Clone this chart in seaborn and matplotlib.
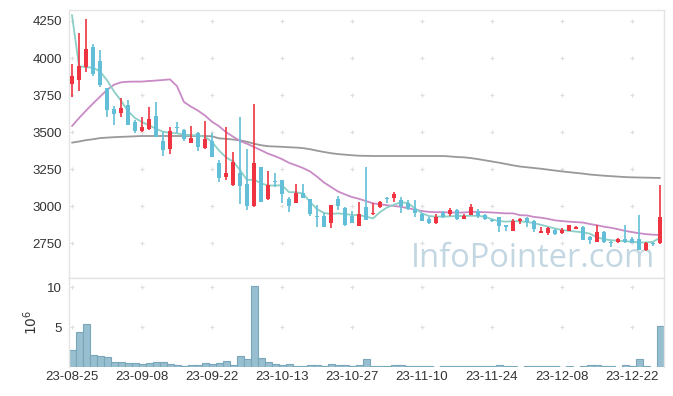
import numpy as np
import pandas as pd
import seaborn as sns
import matplotlib.pyplot as plt

# x tick labels (every 10 trading days)
tick_labels = ["23-08-25", "23-09-08", "23-09-22", "23-10-13", "23-10-27",
               "23-11-10", "23-11-24", "23-12-08", "23-12-22"]

# daily candles
opens = [3825, 3852, 3938, 4077, 3980, 3798, 3656, 3632, 3683, 3568,
         3510, 3523, 3609, 3440, 3384, 3533, 3514, 3429, 3497, 3396,
         3438, 3294, 3199, 3145, 3222, 3153, 3002, 3265, 3047, 3170,
         3177, 3049, 3024, 3092, 3047, 2935, 2934, 2889, 3049, 2988,
         2934, 2867, 2997, 2945, 2997, 3052, 3058, 3042, 3020, 2981,
         2948, 2914, 2885, 2956, 2948, 2974, 2916, 2941, 2968, 2941,
         2907, 2925, 2873, 2835, 2900, 2922, 2903, 2822, 2822, 2840,
         2817, 2835, 2849, 2858, 2790, 2761, 2826, 2761, 2761, 2777,
         2777, 2777, 2705, 2754, 2754]
highs = [3960, 4167, 4261, 4095, 4054, 3800, 3678, 3728, 3717, 3580,
         3604, 3668, 3703, 3503, 3533, 3567, 3520, 3541, 3500, 3573,
         3492, 3312, 3533, 3368, 3600, 3384, 3688, 3268, 3240, 3226,
         3180, 3065, 3148, 3148, 3050, 3008, 2955, 3010, 3069, 2995,
         2968, 3031, 3262, 3024, 3035, 3065, 3094, 3065, 3042, 3042,
         2955, 2930, 2946, 2965, 2990, 2980, 2946, 3013, 2980, 2950,
         2912, 2930, 2876, 2912, 2922, 2930, 2905, 2862, 2860, 2845,
         2855, 2873, 2867, 2870, 2799, 2873, 2835, 2768, 2785, 2873,
         2790, 2941, 2756, 2760, 3143]
lows = [3735, 3780, 3904, 3880, 3803, 3604, 3546, 3604, 3545, 3492,
        3503, 3515, 3465, 3339, 3353, 3493, 3440, 3425, 3375, 3384,
        3330, 3161, 3177, 3140, 3015, 2975, 2998, 3028, 3040, 3132,
        3024, 2960, 3020, 3055, 2936, 2862, 2860, 2851, 2975, 2870,
        2885, 2865, 2905, 2942, 2986, 3020, 3031, 2955, 2975, 2930,
        2900, 2878, 2883, 2920, 2936, 2910, 2914, 2938, 2920, 2905,
        2895, 2828, 2835, 2833, 2880, 2858, 2828, 2820, 2805, 2808,
        2810, 2832, 2845, 2770, 2745, 2758, 2755, 2727, 2755, 2755,
        2750, 2705, 2700, 2730, 2745]
closes = [3880, 3946, 4061, 3894, 3820, 3651, 3625, 3663, 3550, 3510,
          3535, 3589, 3469, 3380, 3508, 3525, 3452, 3460, 3402, 3452,
          3334, 3193, 3224, 3299, 3137, 3002, 3292, 3032, 3143, 3163,
          3085, 3004, 3092, 3058, 2948, 2930, 2862, 3008, 3002, 2876,
          2889, 2948, 2907, 2956, 3029, 3047, 3083, 3000, 2980, 2952,
          2903, 2889, 2930, 2930, 2974, 2912, 2934, 2993, 2936, 2912,
          2900, 2869, 2858, 2900, 2914, 2896, 2846, 2833, 2851, 2811,
          2840, 2871, 2860, 2772, 2772, 2824, 2761, 2750, 2779, 2759,
          2754, 2705, 2754, 2745, 2925]
# volume in millions
volumes = [2.1, 4.4, 5.4, 1.5, 1.4, 1.25, 0.62, 0.62, 0.5, 0.5,
           0.37, 0.5, 0.62, 0.62, 0.37, 0.25, 0.1, 0.25, 0.25, 0.5,
           0.37, 0.5, 0.75, 0.25, 1.4, 1.0, 10.1, 1.1, 0.62, 0.37,
           0.25, 0.37, 0.1, 0.1, 0.25, 0.25, 0.1, 0.37, 0.25, 0.25,
           0.1, 0.25, 1.0, 0.1, 0.1, 0.1, 0.25, 0.25, 0.1, 0.1,
           0.1, 0.1, 0.02, 0.1, 0.1, 0.1, 0.1, 0.1, 0.1, 0.1,
           0.1, 0.25, 0.1, 0.1, 0.02, 0.1, 0.1, 0.1, 0.1, 0.1,
           0.02, 0.1, 0.02, 0.1, 0.25, 0.25, 0.1, 0.1, 0.02, 0.25,
           0.1, 1.0, 0.1, 0.02, 5.1]
# moving average lines
ma_short = [4290, 3945, 3938, 3935, 3910, 3850, 3775, 3712, 3642, 3595,
            3568, 3546, 3523, 3503, 3495, 3492, 3483, 3480, 3478, 3469,
            3434, 3376, 3330, 3302, 3245, 3177, 3180, 3155, 3140, 3140,
            3142, 3095, 3095, 3085, 3030, 2980, 2955, 2948, 2952, 2948,
            2941, 2940, 2930, 2918, 2960, 2992, 3010, 3028, 3020, 2986,
            2952, 2934, 2930, 2930, 2932, 2934, 2935, 2936, 2935, 2930,
            2912, 2900, 2896, 2900, 2898, 2894, 2886, 2875, 2862, 2850,
            2840, 2834, 2829, 2824, 2815, 2790, 2778, 2771, 2768, 2764,
            2761, 2756, 2756, 2760, 2788]
ma_mid = [3541, 3595, 3645, 3693, 3739, 3785, 3820, 3836, 3840, 3841,
          3841, 3845, 3848, 3852, 3856, 3810, 3703, 3672, 3645, 3612,
          3570, 3540, 3500, 3470, 3440, 3422, 3400, 3378, 3355, 3338,
          3318, 3293, 3276, 3258, 3235, 3200, 3160, 3130, 3100, 3080,
          3062, 3050, 3035, 3020, 3013, 3007, 3002, 2996, 2987, 2977,
          2968, 2962, 2960, 2960, 2958, 2957, 2958, 2962, 2962, 2960,
          2958, 2955, 2952, 2952, 2940, 2938, 2928, 2923, 2915, 2905,
          2900, 2896, 2893, 2890, 2880, 2872, 2862, 2855, 2845, 2834,
          2826, 2818, 2812, 2808, 2806]
ma_long = [3429, 3437, 3446, 3452, 3460, 3463, 3466, 3468, 3470, 3472,
           3474, 3474, 3474, 3474, 3474, 3474, 3474, 3474, 3474, 3474,
           3472, 3458, 3455, 3450, 3445, 3435, 3422, 3412, 3405, 3403,
           3401, 3398, 3396, 3392, 3385, 3375, 3366, 3358, 3352, 3348,
           3344, 3341, 3340, 3339, 3339, 3339, 3339, 3339, 3339, 3339,
           3339, 3339, 3339, 3339, 3336, 3332, 3330, 3325, 3318, 3310,
           3302, 3294, 3285, 3276, 3268, 3263, 3258, 3253, 3247, 3241,
           3235, 3230, 3225, 3220, 3214, 3210, 3206, 3203, 3200, 3197,
           3195, 3194, 3193, 3192, 3191]

price_ticks = [2750, 3000, 3250, 3500, 3750, 4000, 4250]
vol_ticks = [5, 10]

df = pd.DataFrame({"open": opens, "high": highs, "low": lows, "close": closes,
                   "volume": volumes, "ma5": ma_short, "ma20": ma_mid, "ma60": ma_long})
df["idx"] = np.arange(len(df))
up = df["close"] >= df["open"]
colors = np.where(up, "#ef3340", "#62bfd7")

sns.set_theme(style="white")
plt.rcParams['font.family'] = ['Liberation Sans', 'DejaVu Sans']

fig = plt.figure(figsize=(6.73, 3.96), dpi=100)
ax = fig.add_axes([68.5 / 673, 118 / 396, 595 / 673, 268 / 396])
axv = fig.add_axes([68.5 / 673, 28.7 / 396, 595 / 673, 89.3 / 396])

# watermark
ax.text(0.986, 0.04, "InfoPointer.com", transform=ax.transAxes, ha="right",
        va="baseline", fontsize=23.5, color="#c3d7e3", family="Open Sans",
        fontweight="medium", zorder=0)

# grid as little crosses
xt = list(range(0, 85, 10))
gx, gy = np.meshgrid(xt, price_ticks)
ax.scatter(gx.ravel(), gy.ravel(), marker="+", s=10, color="#dedede", lw=0.8, zorder=0.5)
gx, gy = np.meshgrid(xt, vol_ticks)
axv.scatter(gx.ravel(), gy.ravel(), marker="+", s=10, color="#dedede", lw=0.8, zorder=0.5)

# moving averages
sns.lineplot(data=df, x="idx", y="ma60", ax=ax, color="#999999", lw=1.3, zorder=2)
sns.lineplot(data=df, x="idx", y="ma20", ax=ax, color="#c98ac6", lw=1.3, zorder=2)
sns.lineplot(data=df, x="idx", y="ma5", ax=ax, color="#8ccfc6", lw=1.3, zorder=2)

# candles
ax.vlines(df["idx"], df["low"], df["high"], colors=colors, lw=1.2, zorder=3)
body = np.maximum((df["close"] - df["open"]).abs(), 7)
ax.bar(df["idx"], body, bottom=np.minimum(df["open"], df["close"]), width=0.7,
       color=colors, lw=0, zorder=4)

# volume
sns.barplot(data=df, x="idx", y="volume", ax=axv, native_scale=True, color="#97bfd0",
            saturation=1, width=1.0, edgecolor="#7aa6ba", linewidth=0.8, zorder=2)

for a in (ax, axv):
    a.set_xlim(-0.5, 84.5)
    a.set_xlabel("")
    for s in a.spines.values():
        s.set_color("#e4e4e4")
        s.set_linewidth(1)
    a.tick_params(length=0, labelsize=9.5, colors="#333333", pad=4.5)

ax.set_ylim(2516, 4324)
ax.set_yticks(price_ticks)
ax.set_xticks(xt)
ax.set_xticklabels([])
ax.set_ylabel("")

axv.set_ylim(0, 11.16)
axv.set_yticks(vol_ticks)
axv.set_xticks(xt)
axv.set_xticklabels(tick_labels)
axv.spines["bottom"].set_visible(False)
axv.set_ylabel(r"$10^6$", fontsize=10, color="#333333", labelpad=5)
axv.tick_params(axis="x", pad=3)

fig.savefig("out.png", dpi=100)
